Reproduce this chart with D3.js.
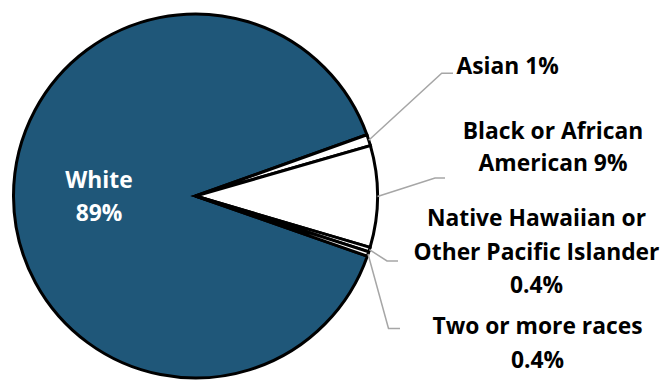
<!DOCTYPE html>
<html>
<head>
<meta charset="utf-8">
<script src="https://cdn.jsdelivr.net/npm/d3@7"></script>
<style>
  html, body { margin: 0; padding: 0; background: #fff; }
  svg { display: block; }
  text { font-family: "Open Sans", Lato, sans-serif; font-weight: bold; }
</style>
</head>
<body>
<svg id="chart" width="668" height="381"></svg>
<script>
// Population by race, share of total (percent)
const categories = ["White", "Asian", "Black or African American",
  "Native Hawaiian or Other Pacific Islander", "Two or more races"];
const values = [89, 1, 9, 0.4, 0.4];
const valueLabels = ["89%", "1%", "9%", "0.4%", "0.4%"];
// Text lines for each slice label
const labelLines = [
  ["White", "89%"],
  ["Asian 1%"],
  ["Black or African", "American 9%"],
  ["Native Hawaiian or", "Other Pacific Islander", "0.4%"],
  ["Two or more races", "0.4%"]
];
const fills = ["#1f5779", "#ffffff", "#ffffff", "#ffffff", "#ffffff"];

const cx = 195.5, cy = 196, R = 182;
const FONT = 22.8;
const svg = d3.select("#chart");
const g = svg.append("g").attr("transform", `translate(${cx},${cy})`);

const rows = categories.map((c, i) => ({ name: c, value: values[i], label: valueLabels[i], lines: labelLines[i], fill: fills[i] }));

const pie = d3.pie()
  .value(d => d.value)
  .sort(null)
  .startAngle(109.3 * Math.PI / 180)
  .endAngle(109.3 * Math.PI / 180 + 2 * Math.PI);
const arcs = pie(rows);
const arc = d3.arc().innerRadius(0).outerRadius(R);

g.selectAll("path.slice")
  .data(arcs)
  .join("path")
  .attr("class", "slice")
  .attr("d", arc)
  .attr("fill", d => d.data.fill)
  .attr("stroke", "#000")
  .attr("stroke-width", 3)
  .attr("stroke-linejoin", "miter");

// Label placement: elbow and end of each leader line, text anchor and baselines
const outside = [
  { tx: 99, ty: [187.5, 221] },
  { elbow: [441.7, 73.3], end: [453, 73.3], tx: 456.5, ty: [74], anchor: "start" },
  { elbow: [435, 178], end: [445, 178], tx: 553, ty: [138.5, 171], anchor: "middle" },
  { elbow: [387, 261], end: [398, 261], tx: 536.5, ty: [226, 259.5, 292.5], anchor: "middle" },
  { elbow: [388.5, 328.5], end: [400, 328.5], tx: 537.5, ty: [334, 367.5], anchor: "middle" }
];

arcs.forEach((a, i) => {
  const d = a.data;
  const o = outside[i];
  if (i === 0) {
    const t = svg.append("text")
      .attr("text-anchor", "middle")
      .attr("fill", "#fff")
      .attr("font-size", FONT);
    d.lines.forEach((line, k) => {
      t.append("tspan").attr("x", o.tx).attr("y", o.ty[k]).text(line);
    });
    return;
  }
  const mid = (a.startAngle + a.endAngle) / 2;
  const sx = cx + R * Math.sin(mid), sy = cy - R * Math.cos(mid);
  svg.append("polyline")
    .attr("points", [[sx, sy], o.elbow, o.end].map(p => p.join(",")).join(" "))
    .attr("fill", "none")
    .attr("stroke", "#a6a6a6")
    .attr("stroke-width", 1.5);
  const t = svg.append("text")
    .attr("text-anchor", o.anchor)
    .attr("fill", "#000")
    .attr("font-size", FONT);
  d.lines.forEach((line, k) => {
    t.append("tspan").attr("x", o.tx).attr("y", o.ty[k]).text(line);
  });
});
</script>
</body>
</html>
